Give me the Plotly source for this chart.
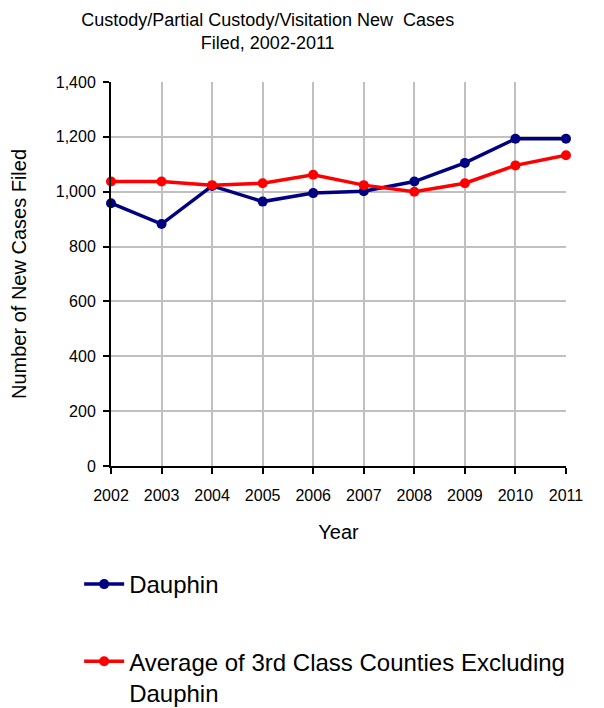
import plotly.graph_objects as go

years = [2002, 2003, 2004, 2005, 2006, 2007, 2008, 2009, 2010, 2011]
dauphin = [958, 882, 1021, 964, 995, 1002, 1037, 1105, 1193, 1193]
avg_3rd = [1037, 1037, 1024, 1031, 1062, 1024, 1000, 1031, 1096, 1133]

font_family = "Liberation Sans, Arial, sans-serif"

fig = go.Figure()
fig.add_trace(go.Scatter(
    x=years, y=dauphin, mode="lines+markers", name="Dauphin",
    line=dict(color="#000080", width=3.5), marker=dict(size=10, color="#000080"),
    cliponaxis=False, legendgroup="a"))
fig.add_trace(go.Scatter(
    x=years, y=avg_3rd, mode="lines+markers",
    name="Average of 3rd Class Counties Excluding<br>Dauphin",
    line=dict(color="#ff0000", width=3.5), marker=dict(size=10, color="#ff0000"),
    cliponaxis=False, legendgroup="b"))

fig.update_layout(
    width=604, height=708,
    margin=dict(l=103, r=46, t=74, b=250, autoexpand=False),
    paper_bgcolor="white", plot_bgcolor="white",
    font=dict(family=font_family, color="black", size=16),
    title=dict(text="Custody/Partial Custody/Visitation New  Cases<br>Filed, 2002-2011",
               x=0.43, xanchor="center", xref="container",
               y=0.975, yanchor="middle", yref="container",
               font=dict(size=18)),
    showlegend=True,
    legend=dict(x=-0.07, xanchor="left", y=-0.25, yanchor="top",
                font=dict(size=24), traceorder="grouped", tracegroupgap=43,
                valign="top", bgcolor="rgba(0,0,0,0)", itemwidth=40),
)
fig.update_xaxes(
    range=[2002, 2011], tickmode="array", tickvals=years,
    ticktext=[str(y) for y in years],
    showgrid=True, gridcolor="#c0c0c0", gridwidth=2,
    showline=True, linecolor="black", linewidth=2,
    ticks="outside", ticklen=6, tickcolor="black", tickwidth=2,
    ticklabelstandoff=8,
    tickfont=dict(size=16),
    title=dict(text="Year", font=dict(size=20), standoff=22),
    zeroline=False,
)
fig.update_yaxes(
    range=[0, 1400], tickmode="linear", dtick=200, tick0=0, tickformat=",d",
    showgrid=True, gridcolor="#c0c0c0", gridwidth=2,
    showline=True, linecolor="black", linewidth=2,
    ticks="outside", ticklen=6, tickcolor="black", tickwidth=2,
    ticklabelstandoff=4,
    tickfont=dict(size=16),
    title=dict(text="Number of New Cases Filed", font=dict(size=20), standoff=24),
    zeroline=False,
)

fig.write_html("out.html")
